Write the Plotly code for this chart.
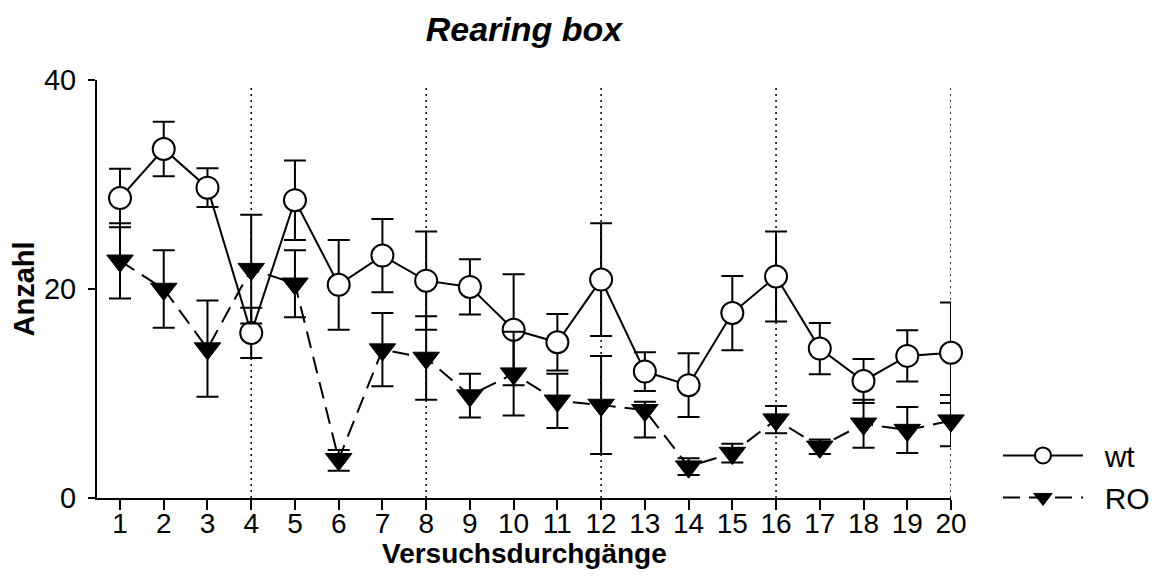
import plotly.graph_objects as go

trials = list(range(1, 21))
tick_labels = [str(t) for t in trials]

wt_mean = [28.7, 33.4, 29.7, 15.8, 28.5, 20.4, 23.2, 20.8, 20.2, 16.1,
           14.9, 20.9, 12.1, 10.8, 17.7, 21.2, 14.3, 11.2, 13.6, 13.9]
wt_err = [2.8, 2.6, 1.85, 2.4, 3.8, 4.3, 3.5, 4.7, 2.65, 5.3,
          2.7, 5.4, 1.85, 3.05, 3.55, 4.3, 2.45, 2.1, 2.45, 4.8]

ro_mean = [22.7, 20.0, 14.3, 21.9, 20.5, 3.7, 14.2, 13.4, 9.8, 11.9,
           9.3, 8.9, 8.4, 3.0, 4.3, 7.5, 4.9, 7.1, 6.5, 7.4]
ro_err_plus = [3.6, 3.7, 4.6, 5.2, 3.2, 0.9, 3.5, 4.0, 2.1, 4.0,
               2.6, 4.7, 0.8, 0.8, 0.9, 1.3, 0.7, 2.3, 2.2, 2.45]
ro_err_minus = [3.6, 3.7, 4.6, 5.2, 3.2, 1.1, 3.5, 4.0, 2.1, 4.0,
                2.6, 4.7, 2.6, 0.8, 0.9, 1.3, 0.7, 2.3, 2.2, 2.45]

block_marks = [4, 8, 12, 16, 20]

FONT = "Liberation Sans, Arial, sans-serif"
NB = "\u00a0\u00a0"

# page has an 8px body margin; figure sized to fit the 1165x578 window
W, H = 1149, 562
L, T = 89, 72
R = W - 943
B = H - 490

fig = go.Figure()

fig.add_trace(go.Scatter(
    x=trials, y=wt_mean, name=NB + "wt", mode="lines+markers",
    line=dict(color="black", width=2),
    marker=dict(symbol="circle", size=22, color="white",
                line=dict(color="black", width=2)),
    error_y=dict(type="data", array=wt_err, visible=True,
                 color="black", thickness=2, width=11),
    cliponaxis=False,
))

fig.add_trace(go.Scatter(
    x=trials, y=ro_mean, name=NB + "RO", mode="lines+markers",
    line=dict(color="black", width=2, dash="17px,9px"),
    marker=dict(symbol="triangle-down", size=23, color="black",
                line=dict(color="black", width=1)),
    error_y=dict(type="data", array=ro_err_plus, arrayminus=ro_err_minus,
                 symmetric=False, visible=True,
                 color="black", thickness=2, width=11),
    cliponaxis=False,
))

for xv in block_marks:
    fig.add_shape(type="line", xref="x", yref="y", x0=xv, x1=xv, y0=0, y1=39.5,
                  line=dict(color="black", width=1.5, dash="2px,4px"), layer="below")

fig.add_annotation(text="<b>Versuchsdurchgänge</b>", xref="paper", yref="paper",
                   x=0.5, y=-0.133, xanchor="center", yanchor="middle",
                   showarrow=False,
                   font=dict(family=FONT, size=28, color="black"))

fig.update_layout(
    width=W, height=H,
    margin=dict(l=L, r=R, t=T, b=B, autoexpand=False),
    paper_bgcolor="white", plot_bgcolor="white",
    font=dict(family=FONT, color="black", size=29),
    title=dict(text="Rearing box", x=0.5, xref="paper", y=0.962, yref="container",
               yanchor="middle", xanchor="center",
               font=dict(family=FONT, size=34, weight="bold", style="italic", color="black")),
    showlegend=True,
    legend=dict(x=1.055, xanchor="left", y=0.164, yanchor="top",
                font=dict(family=FONT, size=30, color="black"),
                itemwidth=80, bgcolor="rgba(0,0,0,0)", tracegroupgap=0),
)

fig.update_xaxes(
    range=[0.474, 20.0], tickmode="array", tickvals=trials, ticktext=tick_labels,
    showline=True, linecolor="black", linewidth=2, mirror=False,
    ticks="outside", ticklen=10, tickwidth=2, tickcolor="black",
    ticklabelstandoff=-11, automargin=False,
    showgrid=False, zeroline=False,
    tickfont=dict(family=FONT, size=28, color="black"),
)

fig.update_yaxes(
    range=[0, 40], tickmode="array", tickvals=[0, 20, 40],
    showline=True, linecolor="black", linewidth=2,
    ticks="outside", ticklen=7, tickwidth=2, tickcolor="black",
    ticklabelstandoff=6, automargin=False,
    showgrid=False, zeroline=False,
    tickfont=dict(family=FONT, size=29, color="black"),
    title=dict(text="Anzahl", standoff=12,
               font=dict(family=FONT, size=29, weight="bold", color="black")),
)

fig.write_html("out.html")
